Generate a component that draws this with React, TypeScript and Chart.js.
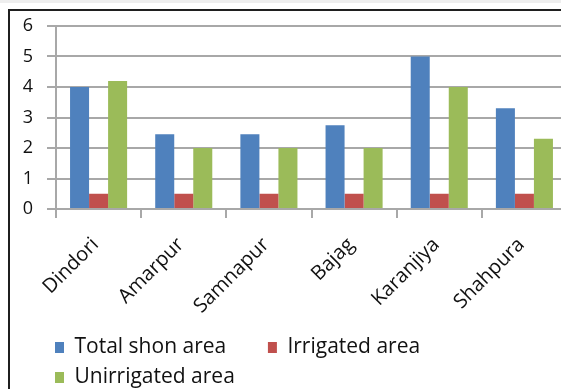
import React, { useEffect, useRef } from "react";
import { Chart, registerables } from "chart.js";

Chart.register(...registerables);

const categories = ["Dindori", "Amarpur", "Samnapur", "Bajag", "Karanjiya", "Shahpura"];
const totalShonArea = [4, 2.45, 2.45, 2.75, 5, 3.3];
const irrigatedArea = [0.5, 0.5, 0.5, 0.5, 0.5, 0.5];
const unirrigatedArea = [4.2, 2, 2, 2, 4, 2.3];
const seriesLabels = ["Total shon area", "Irrigated area", "Unirrigated area"];
const seriesColors = ["#4F81BD", "#C0504D", "#9BBB59"];
const yMin = 0;
const yMax = 6;
const yStep = 1;

const FONT = "'Open Sans'";

const legendShift = {
  id: "legendShift",
  afterLayout(chart: any) {
    const lg = chart.legend;
    if (lg) {
      lg.left += 34;
      lg.right += 34;
    }
  },
};

export default function App() {
  const ref = useRef<HTMLCanvasElement | null>(null);

  useEffect(() => {
    if (!ref.current) return;
    const chart = new Chart(ref.current, {
      type: "bar",
      data: {
        labels: categories,
        datasets: [
          { label: seriesLabels[0], data: totalShonArea, backgroundColor: seriesColors[0] },
          { label: seriesLabels[1], data: irrigatedArea, backgroundColor: seriesColors[1] },
          { label: seriesLabels[2], data: unirrigatedArea, backgroundColor: seriesColors[2] },
        ],
      },
      plugins: [legendShift],
      options: {
        responsive: false,
        animation: false,
        devicePixelRatio: 1,
        layout: { padding: { left: 12, top: 26, right: 13, bottom: 2 } },
        datasets: { bar: { categoryPercentage: 0.67, barPercentage: 1.0 } },
        scales: {
          x: {
            grid: { drawOnChartArea: false, drawTicks: true, tickLength: 9, color: "#a8a8a8", lineWidth: 2 },
            border: { color: "#a8a8a8", width: 2 },
            ticks: {
              minRotation: 45,
              maxRotation: 45,
              autoSkip: false,
              padding: 15,
              labelOffset: -3,
              color: "#111",
              font: { family: FONT, size: 20 },
            },
            afterFit: (s: any) => { s.height = 119; },
          },
          y: {
            min: yMin,
            max: yMax,
            ticks: { stepSize: yStep, padding: 14, color: "#111", font: { family: FONT, size: 18 } },
            grid: { color: "#a8a8a8", lineWidth: 2, tickLength: 9 },
            border: { color: "#a8a8a8", width: 2 },
            afterFit: (s: any) => { s.width = 44; },
          },
        },
        plugins: {
          tooltip: { enabled: false },
          legend: {
            position: "bottom",
            align: "start",
            labels: {
              boxWidth: 9,
              boxHeight: 11,
              padding: 9,
              color: "#111",
              font: { family: FONT, size: 21 },
              generateLabels: (c: any) => {
                const items = Chart.defaults.plugins.legend.labels.generateLabels(c);
                items.forEach((it: any) => { it.lineWidth = 0; });
                if (items[0]) items[0].text = items[0].text + "      ";
                return items;
              },
            },
          },
        },
      },
    });
    return () => chart.destroy();
  }, []);

  return (
    <div style={{ position: "fixed", left: 0, top: 0, width: 561, height: 389, overflow: "hidden", background: "#fff" }}>
      <div style={{ position: "absolute", left: 0, top: 0, width: 561, height: 3, background: "#eeeeee" }} />
      <div style={{ position: "absolute", left: 8, top: 9, width: 700, height: 500, border: "2px solid #1f1f1f", background: "#fff" }} />
      <canvas ref={ref} width={580} height={400} style={{ position: "absolute", left: 0, top: 0, width: 580, height: 400 }} />
    </div>
  );
}
